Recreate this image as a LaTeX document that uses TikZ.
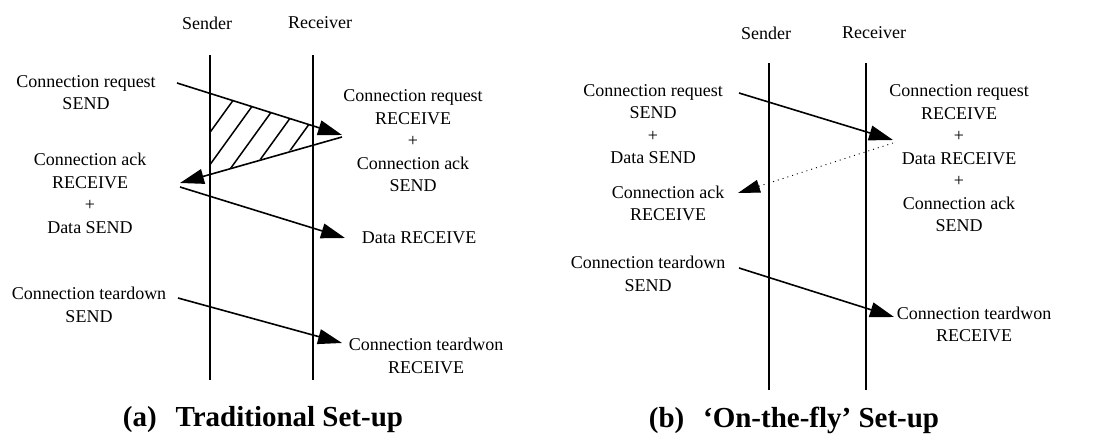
\documentclass[tikz,border=0pt]{standalone}
\usepackage{fontspec}
\setmainfont{Liberation Serif}
\usetikzlibrary{arrows.meta}
\begin{document}
\begin{tikzpicture}[x=1pt,y=-1pt,
  lbl/.style={font=\fontsize{18}{22.5}\selectfont, align=center, inner sep=0pt},
  ttl/.style={font=\fontsize{29}{34}\selectfont\bfseries, inner sep=0pt},
  life/.style={line width=1.8pt},
  msg/.style={line width=1.6pt, -{Triangle[length=24pt,width=15pt]}},
  dmsg/.style={line width=0.9pt, dash pattern=on 1pt off 4pt, -{Triangle[length=22pt,width=13pt]}},
  hatchline/.style={line width=1.5pt}]
\useasboundingbox (0,0) rectangle (1098,439);

% ---------- (a) Traditional set-up ----------
\node[lbl] (sA) at (207,23) {Sender};
\node[lbl] (rA) at (320,23) {Receiver};
\coordinate (sAt) at (210,55);
\coordinate (sAb) at (210,380);
\coordinate (rAt) at (313,55);
\coordinate (rAb) at (313,380);
\draw[life] (sAt) -- (sAb);
\draw[life] (rAt) -- (rAb);

\node[lbl] (aL1) at (86,92.5) {Connection request\\SEND};
\node[lbl] (aL2) at (90,193.5) {Connection ack\\RECEIVE\\+\\Data SEND};
\node[lbl] (aR1) at (413,141) {Connection request\\RECEIVE\\+\\Connection ack\\SEND};
\node[lbl] (aR2) at (419,238) {Data RECEIVE};
\node[lbl] (aL3) at (89,305) {Connection teardown\\SEND};
\node[lbl] (aR3) at (426,356) {Connection teardwon\\RECEIVE};
\node[ttl] (tA) at (263,420) {(a)\hspace{0.4em} Traditional Set-up};

% hatched region
\begin{scope}
  \clip (210,93.4) -- (342,135) -- (210,174.1) -- cycle;
  \foreach \xx in {172,195.3,218.6,241.9,265.2}
    \draw[hatchline] (\xx,185) -- ++(86.6,-120);
\end{scope}

\coordinate (a1s) at (177,83);
\coordinate (a1e) at (342,135);
\coordinate (a2s) at (342,137);
\coordinate (a2e) at (180,183);
\coordinate (a3s) at (180,187);
\coordinate (a3e) at (345,238);
\coordinate (a4s) at (178,298);
\coordinate (a4e) at (342,343);
\draw[msg] (a1s) -- (a1e);
\draw[msg] (a2s) -- (a2e);
\draw[msg] (a3s) -- (a3e);
\draw[msg] (a4s) -- (a4e);

% ---------- (b) On-the-fly set-up ----------
\node[lbl] (sB) at (766,33) {Sender};
\node[lbl] (rB) at (874,33) {Receiver};
\coordinate (sBt) at (769,63);
\coordinate (sBb) at (769,390);
\coordinate (rBt) at (866,63);
\coordinate (rBb) at (866,390);
\draw[life] (sBt) -- (sBb);
\draw[life] (rBt) -- (rBb);

\node[lbl] (bL1) at (653,124) {Connection request\\SEND\\+\\Data SEND};
\node[lbl] (bL2) at (668,203.5) {Connection ack\\RECEIVE};
\node[lbl] (bR1) at (959,158.5) {Connection request\\RECEIVE\\+\\Data RECEIVE\\+\\Connection ack\\SEND};
\node[lbl] (bL3) at (648,274) {Connection teardown\\SEND};
\node[lbl] (bR3) at (974,324.5) {Connection teardwon\\RECEIVE};
\node[ttl] (tB) at (794,420) {(b)\hspace{0.4em} ‘On-the-fly’ Set-up};

\coordinate (b1s) at (739,93);
\coordinate (b1e) at (893,140);
\coordinate (b2s) at (893,143);
\coordinate (b2e) at (738,193);
\coordinate (b3s) at (739,268);
\coordinate (b3e) at (894,317);
\draw[msg] (b1s) -- (b1e);
\draw[dmsg] (b2s) -- (b2e);
\draw[msg] (b3s) -- (b3e);
\end{tikzpicture}
\end{document}
